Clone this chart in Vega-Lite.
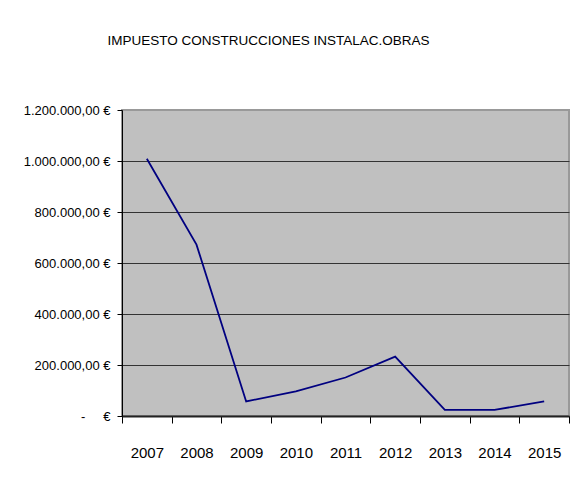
{
  "$schema": "https://vega.github.io/schema/vega-lite/v6.json",
  "autosize": "none",
  "width": 447,
  "height": 306,
  "padding": {"left": 122, "top": 110, "right": 4, "bottom": 79},
  "background": "white",
  "title": {
    "text": "IMPUESTO CONSTRUCCIONES INSTALAC.OBRAS",
    "font": "Liberation Sans, Arial, sans-serif",
    "fontSize": 13.5,
    "fontWeight": "normal",
    "color": "black",
    "anchor": "middle",
    "baseline": "alphabetic",
    "dx": -77,
    "offset": 46
  },
  "data": {
    "values": [
      {"year": "2007", "amount": 1009000},
      {"year": "2008", "amount": 672000},
      {"year": "2009", "amount": 57000},
      {"year": "2010", "amount": 97000},
      {"year": "2011", "amount": 151000},
      {"year": "2012", "amount": 233000},
      {"year": "2013", "amount": 24000},
      {"year": "2014", "amount": 24000},
      {"year": "2015", "amount": 57000}
    ]
  },
  "mark": {"type": "line", "color": "#000080", "strokeWidth": 1.8},
  "encoding": {
    "x": {
      "field": "year",
      "type": "ordinal",
      "scale": {"type": "band", "paddingInner": 0, "paddingOuter": 0},
      "axis": {
        "title": null,
        "labelAngle": 0,
        "tickBand": "extent",
        "tickSize": 7,
        "tickColor": "black",
        "domainColor": "#222222",
        "domainWidth": 2,
        "labelFont": "Liberation Sans, Arial, sans-serif",
        "labelFontSize": 15,
        "labelColor": "black",
        "labelPadding": 22,
        "grid": false
      }
    },
    "y": {
      "field": "amount",
      "type": "quantitative",
      "scale": {"domain": [0, 1200000], "nice": false},
      "axis": {
        "title": null,
        "values": [0, 200000, 400000, 600000, 800000, 1000000, 1200000],
        "format": ",.2f",
        "labelExpr": "datum.value == 0 ? '-\u00a0\u00a0\u00a0\u00a0\u00a0€' : datum.label + ' €'",
        "labelFont": "Liberation Sans, Arial, sans-serif",
        "labelFontSize": 13,
        "labelColor": "black",
        "labelPadding": 7,
        "tickSize": 5,
        "tickColor": "black",
        "domainColor": "black",
        "grid": true,
        "gridColor": {"condition": {"test": "datum.value === 1200000", "value": "#999999"}, "value": "#333333"},
        "gridWidth": 1
      }
    }
  },
  "config": {
    "locale": {
      "number": {"decimal": ",", "thousands": ".", "grouping": [3], "currency": ["", " €"]}
    },
    "view": {"fill": "#C0C0C0", "stroke": "#999999", "strokeWidth": 2}
  }
}
